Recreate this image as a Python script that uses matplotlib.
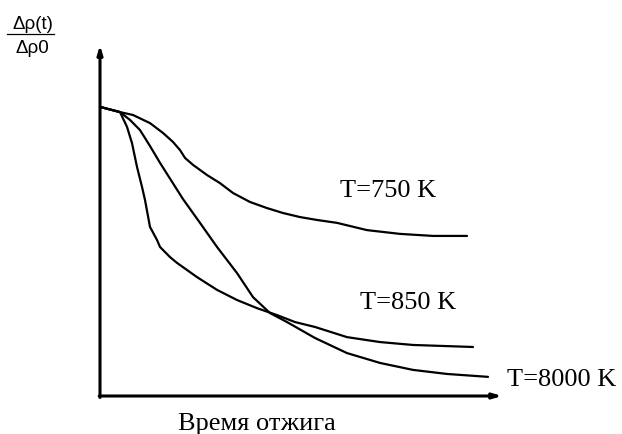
import matplotlib.pyplot as plt
from matplotlib.lines import Line2D

# annealing time (arb. units) and relative resistivity change
t_750 = [0, 0.5, 0.825, 1.25, 1.575, 1.825, 2.0, 2.125, 2.325, 2.675, 3.0, 3.325, 3.75,
         4.175, 4.575, 5.0, 5.425, 5.925, 6.675, 7.5, 8.325, 9.175]
r_750 = [0.997, 0.979, 0.969, 0.941, 0.907, 0.876, 0.848, 0.821, 0.797, 0.762, 0.734, 0.7, 0.669,
         0.648, 0.631, 0.617, 0.607, 0.597, 0.572, 0.559, 0.552, 0.552]

t_850 = [0, 0.5, 0.675, 0.8, 0.925, 1.05, 1.125, 1.25, 1.425, 1.5, 1.75, 1.925, 2.425, 2.925,
         3.425, 3.925, 4.425, 4.875, 5.375, 6.175, 7.0, 7.825, 9.325]
r_850 = [0.997, 0.979, 0.928, 0.872, 0.79, 0.721, 0.676, 0.583, 0.538, 0.514, 0.479, 0.459, 0.41, 0.366,
         0.331, 0.303, 0.279, 0.255, 0.238, 0.203, 0.186, 0.176, 0.169]

t_8000 = [0, 0.5, 0.75, 1.0, 1.25, 1.5, 2.075, 2.5, 2.925, 3.425, 3.825, 4.25, 4.675,
          5.375, 6.175, 7.0, 7.825, 8.675, 9.7]
r_8000 = [0.997, 0.979, 0.952, 0.917, 0.862, 0.804, 0.679, 0.597, 0.514, 0.424, 0.341, 0.286, 0.255,
          0.2, 0.148, 0.114, 0.09, 0.076, 0.066]

labels = ["T=750 K", "T=850 K", "T=8000 K"]

W, H = 622, 434
fig = plt.figure(figsize=(W / 100, H / 100), dpi=100)
ax = fig.add_axes([100 / W, 38 / H, 400 / W, 290 / H])
ax.set_xlim(0, 10)
ax.set_ylim(0, 1)
ax.axis('off')

for t, r in [(t_750, r_750), (t_850, r_850), (t_8000, r_8000)]:
    ax.plot(t, r, color='black', lw=1.6, clip_on=False,
            solid_capstyle='round', solid_joinstyle='round')

# axes with arrows
arrow = dict(arrowstyle='-|>,head_length=0.5,head_width=0.15', color='black', lw=2.2,
             shrinkA=0, shrinkB=0)
ax.annotate('', xy=(0, 1.21), xytext=(0, -0.005), arrowprops=arrow, annotation_clip=False)
ax.annotate('', xy=(10.05, 0), xytext=(-0.02, 0), arrowprops=arrow, annotation_clip=False)

serif = dict(family='Liberation Serif', fontsize=19, color='black')
ax.text(6.0, 0.686, labels[0], ha='left', va='baseline', clip_on=False, **serif)
ax.text(6.5, 0.30, labels[1], ha='left', va='baseline', clip_on=False, **serif)
ax.text(10.175, 0.034, labels[2], ha='left', va='baseline', clip_on=False, **serif)
ax.text(1.95, -0.117, "Время отжига", ha='left', va='baseline', clip_on=False, **serif)

# y label as a fraction
sans = dict(family='Liberation Sans', fontsize=13.5, color='black', ha='center', va='baseline')
fig.text(33 / W, 1 - 29 / H, "Δρ(t)", **sans)
fig.text(32 / W, 1 - 53 / H, "Δρ0", **sans)
fig.add_artist(Line2D([7 / W, 54 / W], [1 - 34 / H, 1 - 34 / H], color='black', lw=0.9))

fig.savefig('out.png', dpi=100)
